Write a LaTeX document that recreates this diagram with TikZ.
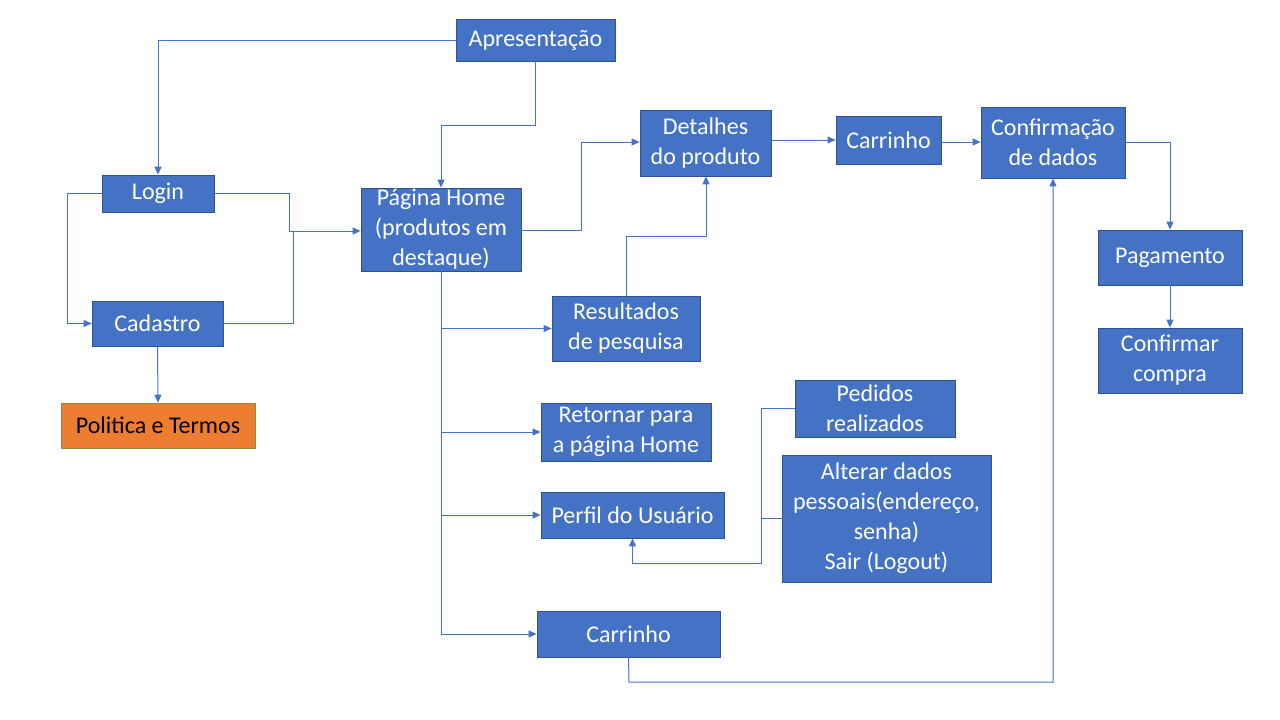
\documentclass[tikz,border=0pt]{standalone}
\usepackage{fontspec}
\setmainfont{Carlito}
\usetikzlibrary{arrows.meta}
\definecolor{boxblue}{HTML}{4472C4}
\definecolor{boxedge}{HTML}{2F528F}
\definecolor{orangefill}{HTML}{ED7D31}
\definecolor{orangeedge}{HTML}{8F8A3C}
\begin{document}
\begin{tikzpicture}[x=1pt,y=-1pt,
  box/.style={draw=boxedge,fill=boxblue,line width=0.8pt,text=white,inner sep=0pt,
    align=center,font=\fontsize{24pt}{30pt}\selectfont},
  obox/.style={draw=orangeedge,fill=orangefill,line width=0.8pt,text=black,inner sep=0pt,
    align=center,font=\fontsize{24pt}{30pt}\selectfont},
  conn/.style={draw=boxblue,line width=1pt},
  arr/.style={conn,-{Triangle[length=8pt,width=7pt]}}]
\useasboundingbox (0,0) rectangle (1280,720);
\fill[white] (0,0) rectangle (1280,720);
% nodes
\node[box,minimum width=159pt,minimum height=42pt] (apr) at (535.5,40) {Apresentação};
\node[box,minimum width=112pt,minimum height=37pt] (login) at (158,193.5) {Login};
\node[box,minimum width=131pt,minimum height=45pt] (cad) at (157.5,323.5) {Cadastro};
\node[obox,minimum width=194pt,minimum height=45pt] (pol) at (158,425.5) {Politica e Termos};
\node[box,minimum width=160pt,minimum height=83pt] (home) at (441,229.5) {Página Home\\(produtos em\\destaque)};
\node[box,minimum width=131pt,minimum height=66pt] (det) at (705.5,143) {Detalhes\\do produto};
\node[box,minimum width=105pt,minimum height=48pt] (car1) at (888.5,140) {Carrinho};
\node[box,minimum width=144pt,minimum height=71pt] (conf) at (1053,142.5) {Confirmação\\de dados};
\node[box,minimum width=144pt,minimum height=55pt] (pag) at (1170,257.5) {Pagamento};
\node[box,minimum width=144pt,minimum height=65pt] (cfc) at (1170,360.5) {Confirmar\\compra};
\node[box,minimum width=148pt,minimum height=65pt] (res) at (626,328.5) {Resultados\\de pesquisa};
\node[box,minimum width=170pt,minimum height=58pt] (ret) at (626,432) {Retornar para\\a página Home};
\node[box,minimum width=160pt,minimum height=57pt] (ped) at (875,408.5) {Pedidos\\realizados};
\node[box,minimum width=183pt,minimum height=46pt] (perf) at (632.5,515) {Perfil do Usuário};
\node[box,minimum width=209pt,minimum height=127pt] (alt) at (886.5,518.5) {Alterar dados\\pessoais(endereço,\\senha)\\Sair (Logout)};
\node[box,minimum width=183pt,minimum height=46pt] (car2) at (628.5,634) {Carrinho};
% connectors
\draw[arr] (apr.west) -| (login.north);
\draw[arr] (apr.south) -- ++(0,64) -| (home.north);
\draw[arr] (login.east) -| (289,231) -- (home.west |- 0,231);
\draw[conn] (cad.east) -| (293,231);
\draw[arr] (login.west) -- (67,193.5) |- (cad.west);
\draw[arr] (cad.south) -- (pol.north);
\draw[arr] (home.east |- 0,230) -| (581,142) -- (det.west |- 0,142);
\draw[arr] (res.north) |- (706,236) -- (det.south -| 706,0);
\draw[conn] (home.south) -- (441,634);
\draw[arr] (441,328.5) -- (res.west);
\draw[arr] (441,432) -- (ret.west);
\draw[arr] (441,515) -- (perf.west);
\draw[arr] (441,634) -- (car2.west);
\draw[arr] (det.east |- 0,140) -- (car1.west);
\draw[arr] (car1.east |- 0,142) -- (conf.west |- 0,142);
\draw[arr] (conf.east |- 0,142) -| (pag.north);
\draw[arr] (pag.south) -- (cfc.north);
\draw[arr] (car2.south) -- (629,682) -| (conf.south);
\draw[arr] (ped.west) -| (761,563) -| (perf.south);
\draw[conn] (alt.west) -- (761,518.5);
\end{tikzpicture}
\end{document}
